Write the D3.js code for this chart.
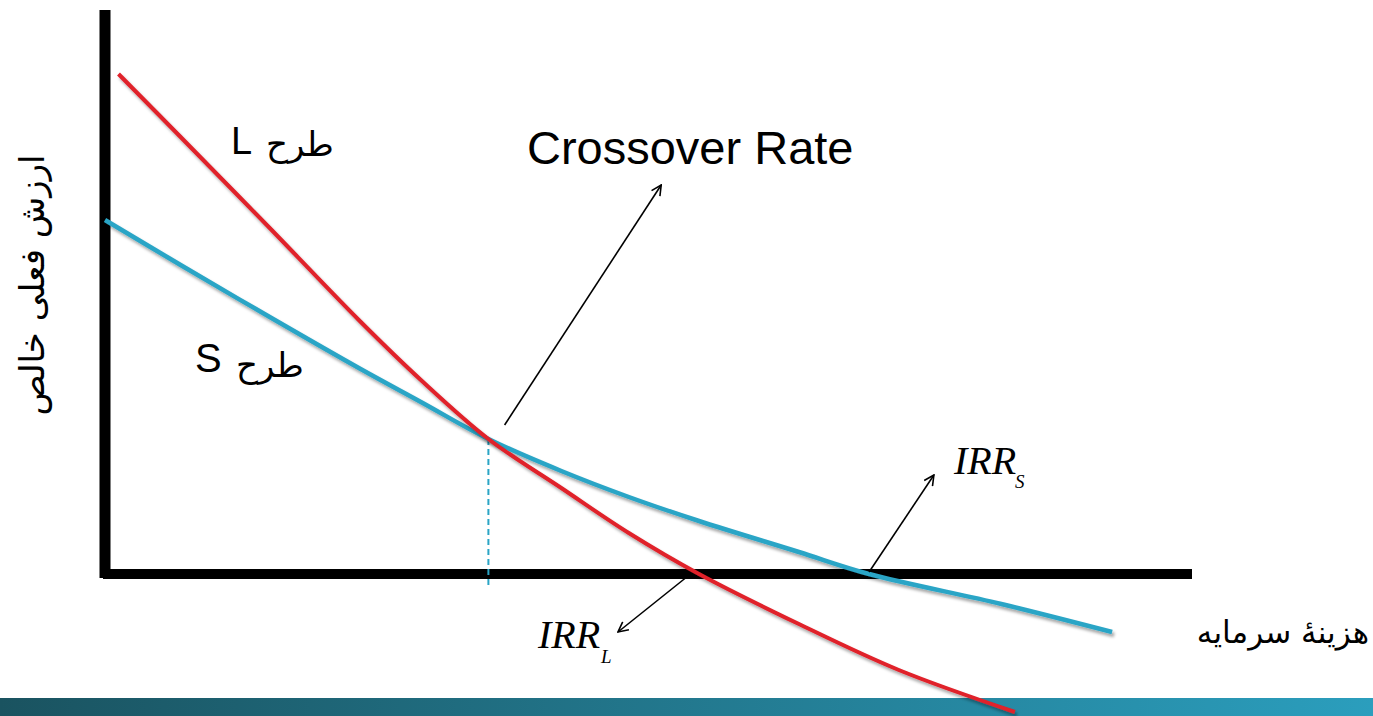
<!DOCTYPE html>
<html>
<head>
<meta charset="utf-8">
<script src="https://cdn.jsdelivr.net/npm/d3@7"></script>
<style>
html, body { margin: 0; padding: 0; background: #fff; overflow: hidden; }
</style>
</head>
<body>
<svg id="chart"></svg>
<script>
var width = 1373;
var height = 716;

// NPV profile of project L (rate %, npv)
var rateL = [0.5, 2.8, 6.1, 9.4, 11.7, 14.2, 16.9, 19.4, 22.0, 25.7, 29.4, 33.7];
var npvL  = [500, 437, 346, 254, 194,  135,   86,   41,    0,  -50,  -96, -138];
// NPV profile of project S
var rateS = [0.0, 2.8, 6.1, 9.4, 11.7, 14.2, 16.9, 19.4, 22.0, 25.7, 28.3, 33.2, 37.3];
var npvS  = [354, 309, 257, 206, 172,  135,  103,   77,   53,   22,    0,  -30,  -58];

var crossoverRate = 14.2;
var crossoverNpv = 135;

// arrows: [fromRate, fromNpv, toRate, toNpv]
var arrowCrossover = [14.8, 149, 20.6, 389];
var arrowIrrS = [28.3, 2, 30.7, 99];
var arrowIrrL = [21.5, -4, 19.0, -58];

var titleText = "Crossover Rate";
var yLabel = "ارزش فعلی خالص";
var xLabel = "هزینهٔ سرمایه";
var planWord = "طرح";

var x = d3.scaleLinear().domain([0, 40]).range([105, 1185]);
var y = d3.scaleLinear().domain([0, 500]).range([574, 74]);

var svg = d3.select("#chart")
	.attr("width", width)
	.attr("height", height);

var defs = svg.append("defs");
var shadow = defs.append("filter").attr("id", "shadow")
	.attr("x", "-10%").attr("y", "-10%").attr("width", "130%").attr("height", "130%");
shadow.append("feDropShadow")
	.attr("dx", 2).attr("dy", 3).attr("stdDeviation", 1.8)
	.attr("flood-color", "#000").attr("flood-opacity", 0.35);

var grad = defs.append("linearGradient").attr("id", "band")
	.attr("x1", "0%").attr("x2", "100%").attr("y1", "0%").attr("y2", "0%");
grad.append("stop").attr("offset", "0%").attr("stop-color", "#1a5360");
grad.append("stop").attr("offset", "100%").attr("stop-color", "#2b9ebd");

defs.append("marker").attr("id", "arrow")
	.attr("viewBox", "0 0 12 12")
	.attr("refX", 11).attr("refY", 6)
	.attr("markerWidth", 12).attr("markerHeight", 12)
	.attr("markerUnits", "userSpaceOnUse")
	.attr("orient", "auto")
	.append("path")
	.attr("d", "M1,1 L11,6 L1,11")
	.attr("fill", "none")
	.attr("stroke", "#000")
	.attr("stroke-width", 1.6);

// bottom band
svg.append("rect")
	.attr("x", 0).attr("y", 698)
	.attr("width", width).attr("height", 18)
	.attr("fill", "url(#band)");

// axes (thick black)
svg.append("line")
	.attr("x1", x(0)).attr("x2", x(0))
	.attr("y1", 10).attr("y2", y(0) + 4)
	.attr("stroke", "#000").attr("stroke-width", 11);
svg.append("line")
	.attr("x1", 103).attr("x2", 1192)
	.attr("y1", y(0)).attr("y2", y(0))
	.attr("stroke", "#000").attr("stroke-width", 10);

// dashed crossover drop line
svg.append("line")
	.attr("x1", x(crossoverRate)).attr("x2", x(crossoverRate))
	.attr("y1", y(crossoverNpv)).attr("y2", y(0) + 12)
	.attr("stroke", "#2aa5c6").attr("stroke-width", 2)
	.attr("stroke-dasharray", "6,4");

var line = d3.line()
	.x(function(d){ return x(d[0]); })
	.y(function(d){ return y(d[1]); })
	.curve(d3.curveCatmullRom.alpha(0.5));

var dataL = rateL.map(function(r, i){ return [r, npvL[i]]; });
var dataS = rateS.map(function(r, i){ return [r, npvS[i]]; });

svg.append("path")
	.datum(dataS)
	.attr("d", line)
	.attr("fill", "none")
	.attr("stroke", "#2aa5c6")
	.attr("stroke-width", 4.5)
	.attr("filter", "url(#shadow)");

svg.append("path")
	.datum(dataL)
	.attr("d", line)
	.attr("fill", "none")
	.attr("stroke", "#e0202a")
	.attr("stroke-width", 4)
	.attr("filter", "url(#shadow)");

// arrows
[arrowCrossover, arrowIrrS, arrowIrrL].forEach(function(a){
	svg.append("line")
		.attr("x1", x(a[0])).attr("y1", y(a[1]))
		.attr("x2", x(a[2])).attr("y2", y(a[3]))
		.attr("stroke", "#000").attr("stroke-width", 1.6)
		.attr("marker-end", "url(#arrow)");
});

// texts
svg.append("text")
	.attr("x", 527).attr("y", 164)
	.attr("font-family", "Liberation Sans, Arial, sans-serif")
	.attr("font-size", "47px")
	.attr("fill", "#000")
	.text(titleText);

svg.append("text")
	.attr("x", 231).attr("y", 154)
	.attr("font-family", "Liberation Sans, Arial, sans-serif")
	.attr("font-size", "38px")
	.text("L");
svg.append("text")
	.attr("x", 300).attr("y", 156)
	.attr("text-anchor", "middle")
	.attr("font-family", "DejaVu Sans, sans-serif")
	.attr("font-size", "34px")
	.text(planWord);

svg.append("text")
	.attr("x", 195).attr("y", 372)
	.attr("font-family", "Liberation Sans, Arial, sans-serif")
	.attr("font-size", "40px")
	.text("S");
svg.append("text")
	.attr("x", 270).attr("y", 377)
	.attr("text-anchor", "middle")
	.attr("font-family", "DejaVu Sans, sans-serif")
	.attr("font-size", "34px")
	.text(planWord);

// IRR labels
function irrLabel(px, py, sub, subPx, subPy){
	svg.append("text")
		.attr("x", px).attr("y", py)
		.attr("font-family", "Liberation Serif, Times New Roman, serif")
		.attr("font-style", "italic")
		.attr("font-size", "40px")
		.text("IRR");
	svg.append("text")
		.attr("x", subPx).attr("y", subPy)
		.attr("font-family", "Liberation Serif, Times New Roman, serif")
		.attr("font-style", "italic")
		.attr("font-size", "19px")
		.text(sub);
}
irrLabel(538, 648, "L", 601, 663);
irrLabel(954, 474, "S", 1015, 488);

// axis titles
svg.append("text")
	.attr("transform", "translate(44,285) rotate(-90)")
	.attr("text-anchor", "middle")
	.attr("font-family", "DejaVu Sans, sans-serif")
	.attr("font-size", "34px")
	.text(yLabel);

svg.append("text")
	.attr("x", 1283).attr("y", 643)
	.attr("text-anchor", "middle")
	.attr("font-family", "DejaVu Sans, sans-serif")
	.attr("font-size", "31px")
	.text(xLabel);
</script>
</body>
</html>
